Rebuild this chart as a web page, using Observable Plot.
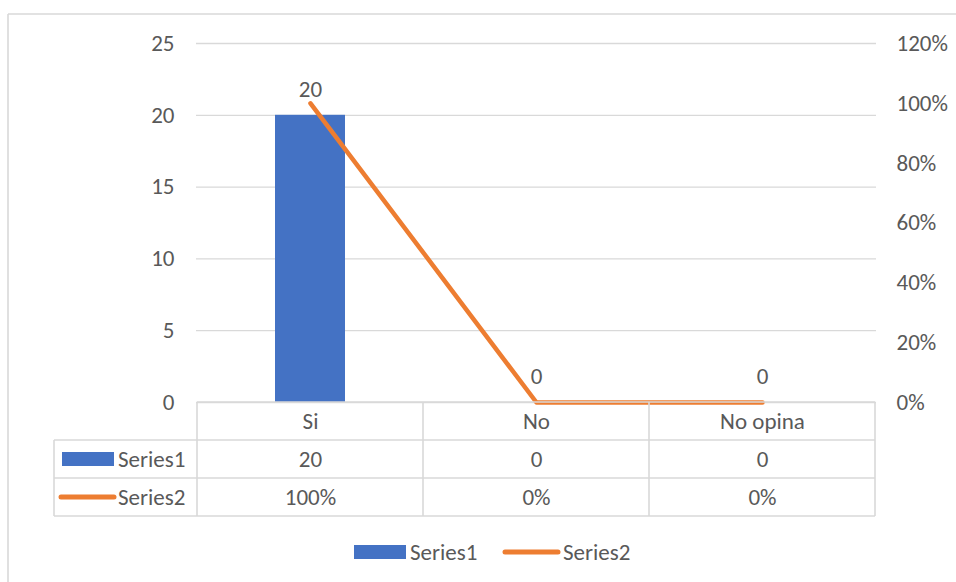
<!DOCTYPE html>
<html>
<head>
<meta charset="utf-8">
<script src="https://cdn.jsdelivr.net/npm/d3@7"></script>
<script src="https://cdn.jsdelivr.net/npm/@observablehq/plot@0.6"></script>
<style>
  html, body { margin: 0; padding: 0; background: #fff; }
  svg { display: block; }
</style>
</head>
<body>
<div id="chart"></div>
<script>
const categories = ["Si", "No", "No opina"];
const series1 = [20, 0, 0];
const series2 = [1.0, 0, 0];
const seriesNames = ["Series1", "Series2"];
const leftTicks = [0, 5, 10, 15, 20, 25];
const rightTicks = [0, 0.2, 0.4, 0.6, 0.8, 1.0, 1.2];

const BLUE = "#4472C4", ORANGE = "#ED7D31", GRID = "#d9d9d9", TEXT = "#595959";
const FONT = "Carlito, 'Liberation Sans', Arial, sans-serif";
const FS = 23;

const yMax = 25, pMax = 1.2;
const toLeft = p => p * yMax / pMax;
const data = categories.map((c, i) => ({cat: c, s1: series1[i], s2: series2[i]}));
const pct = p => Math.round(p * 100) + "%";

const W = 956, H = 582;
const chart = Plot.plot({
  width: W, height: H,
  marginLeft: 196, marginRight: 80, marginTop: 43, marginBottom: 180,
  style: {fontFamily: FONT, fontSize: FS + "px", color: TEXT, background: "#fff"},
  x: {domain: categories, padding: 0, axis: null},
  y: {domain: [0, yMax], axis: null},
  marks: [
    Plot.gridY(leftTicks, {stroke: GRID, strokeOpacity: 1, strokeWidth: 1.3}),
    Plot.axisY(leftTicks, {anchor: "left", tickSize: 0, tickPadding: 22, fill: TEXT, fontSize: FS, label: null}),
    Plot.axisY(rightTicks.map(toLeft), {anchor: "right", tickSize: 0, tickPadding: 20, fill: TEXT, fontSize: FS, label: null,
      tickFormat: d => pct(d * pMax / yMax)}),
    Plot.barY(data, {x: "cat", y: "s1", fill: BLUE, insetLeft: 78, insetRight: 78}),
    Plot.line(data, {x: "cat", y: d => toLeft(d.s2), stroke: ORANGE, strokeWidth: 4.5, strokeLinecap: "round", strokeLinejoin: "round"}),
    // data labels (Series1 values)
    Plot.text(data, {x: "cat", y: "s1", text: d => String(d.s1), dy: -26, fill: TEXT, fontSize: FS}),
    // data table: header row (categories) and value rows
    Plot.text(categories, {x: d => d, y: () => 0, text: d => d, dy: 19, fill: TEXT, fontSize: FS}),
    Plot.text(data, {x: "cat", y: () => 0, text: d => String(d.s1), dy: 57, fill: TEXT, fontSize: FS}),
    Plot.text(data, {x: "cat", y: () => 0, text: d => pct(d.s2), dy: 95, fill: TEXT, fontSize: FS})
  ]
});
document.getElementById("chart").appendChild(chart);

const svg = d3.select(chart);
const xs = chart.scale("x"), ys = chart.scale("y");
const bw = xs.bandwidth;
const x0 = xs.apply(categories[0]);
const xEnd = xs.apply(categories[categories.length - 1]) + bw;
const yb = ys.apply(0);
const rowH = 38;
const leftCol = 54;

const g = svg.append("g").attr("stroke", GRID).attr("stroke-width", 1.6).attr("fill", "none");
// chart outer border
g.append("line").attr("x1", 8).attr("x2", W).attr("y1", 14).attr("y2", 14);
g.append("line").attr("x1", 8).attr("x2", 8).attr("y1", 14).attr("y2", H);
// table horizontal lines
g.append("line").attr("x1", x0).attr("x2", xEnd).attr("y1", yb).attr("y2", yb);
[1, 2, 3].forEach(k => g.append("line").attr("x1", leftCol).attr("x2", xEnd)
  .attr("y1", yb + k * rowH).attr("y2", yb + k * rowH));
// table verticals
categories.forEach(c => g.append("line").attr("x1", xs.apply(c)).attr("x2", xs.apply(c))
  .attr("y1", yb).attr("y2", yb + 3 * rowH));
g.append("line").attr("x1", xEnd).attr("x2", xEnd).attr("y1", yb).attr("y2", yb + 3 * rowH);
g.append("line").attr("x1", leftCol).attr("x2", leftCol).attr("y1", yb + rowH).attr("y2", yb + 3 * rowH);

// legend keys in table
const tk = svg.append("g").attr("font-family", FONT).attr("font-size", FS).attr("fill", TEXT)
  .attr("text-anchor", "start");
const r1 = yb + rowH * 1.5, r2 = yb + rowH * 2.5;
tk.append("rect").attr("x", 62).attr("y", r1 - 7).attr("width", 52).attr("height", 14).attr("fill", BLUE);
tk.append("text").attr("x", 118).attr("y", r1).attr("dy", "0.35em").attr("text-anchor", "start").text(seriesNames[0]);
tk.append("line").attr("x1", 61).attr("x2", 114).attr("y1", r2).attr("y2", r2)
  .attr("stroke", ORANGE).attr("stroke-width", 5).attr("stroke-linecap", "round");
tk.append("text").attr("x", 118).attr("y", r2).attr("dy", "0.35em").attr("text-anchor", "start").text(seriesNames[1]);

// bottom legend
const ly = 552;
tk.append("rect").attr("x", 354).attr("y", ly - 7).attr("width", 52).attr("height", 14).attr("fill", BLUE);
tk.append("text").attr("x", 410).attr("y", ly).attr("dy", "0.35em").attr("text-anchor", "start").text(seriesNames[0]);
tk.append("line").attr("x1", 505).attr("x2", 558).attr("y1", ly).attr("y2", ly)
  .attr("stroke", ORANGE).attr("stroke-width", 5).attr("stroke-linecap", "round");
tk.append("text").attr("x", 563).attr("y", ly).attr("dy", "0.35em").attr("text-anchor", "start").text(seriesNames[1]);
</script>
</body>
</html>
